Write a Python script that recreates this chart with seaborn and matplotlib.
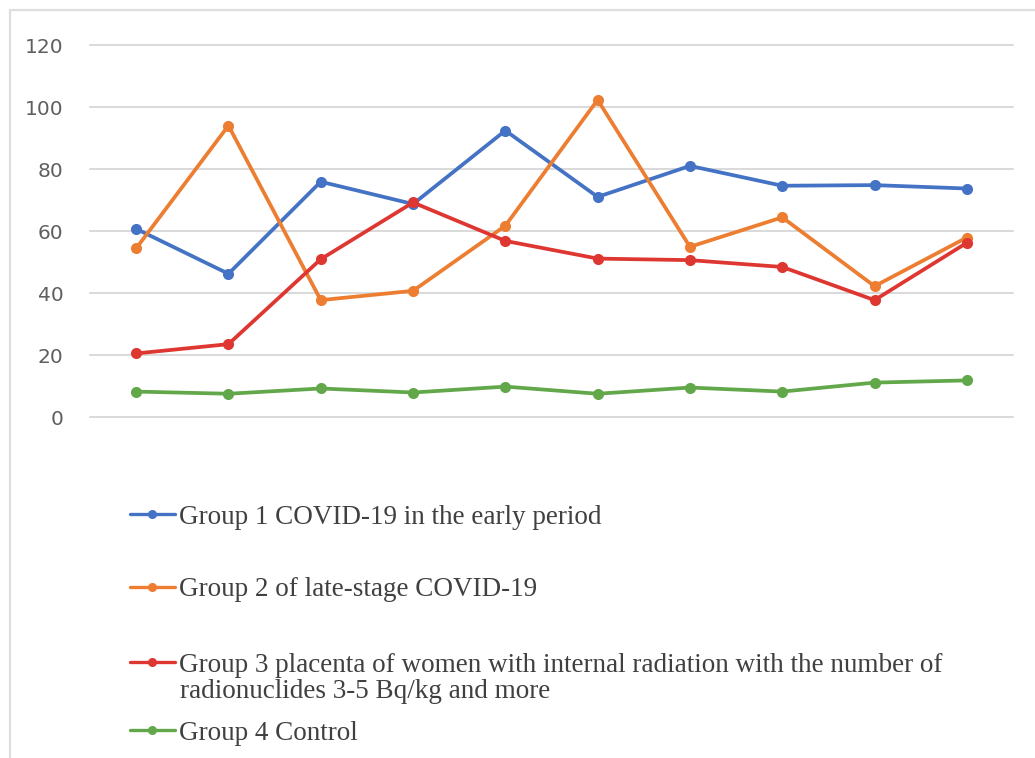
import matplotlib
matplotlib.use("Agg")
import matplotlib.pyplot as plt
from matplotlib.lines import Line2D
from matplotlib.patches import Rectangle
import pandas as pd
import seaborn as sns

# ---- data -----------------------------------------------------------------
points = list(range(10))
group1 = [60.7, 46.2, 75.9, 68.7, 92.4, 71.0, 81.0, 74.6, 74.8, 73.7]
group2 = [54.4, 94.0, 37.7, 40.7, 61.7, 102.3, 54.9, 64.4, 42.2, 57.9]
group3 = [20.5, 23.5, 50.9, 69.2, 56.8, 51.1, 50.6, 48.4, 37.7, 56.2]
group4 = [8.2, 7.5, 9.2, 7.9, 9.8, 7.5, 9.5, 8.2, 11.1, 11.8]

series_names = [
    "Group 1 COVID-19 in the early period",
    "Group 2 of late-stage COVID-19",
    "Group 3 placenta of women with internal radiation with the number of",
    "Group 4 Control",
]
group3_second_line = "radionuclides 3-5 Bq/kg and more"
y_ticks = [0, 20, 40, 60, 80, 100, 120]
colors = ["#4472C4", "#ED7D31", "#DE3732", "#62A84B"]

df = pd.concat(
    [pd.DataFrame({"point": points, "value": vals, "group": name})
     for name, vals in zip(series_names, [group1, group2, group3, group4])],
    ignore_index=True,
)

# ---- figure ---------------------------------------------------------------
sns.set_theme(style="white")
W, H = 1035, 758
fig = plt.figure(figsize=(W / 100, H / 100), dpi=100)
fig.patch.set_facecolor("white")

# light chart frame (left and top edges visible)
fig.add_artist(Rectangle((10 / W, -0.2), 1.5, 1.2 - 10 / H,
                         transform=fig.transFigure, fill=False,
                         edgecolor="#dedede", linewidth=1.6))

ax = fig.add_axes([90 / W, 1 - 417 / H, (1013 - 90) / W, (417 - 45) / H])

sns.lineplot(data=df, x="point", y="value", hue="group",
             hue_order=series_names, palette=colors, marker="o",
             markersize=8, markeredgewidth=0, linewidth=2.7,
             legend=False, sort=False, ax=ax)

ax.set_xlim(-0.5, 9.5)
ax.set_ylim(0, 120)
ax.set_yticks(y_ticks)
ax.set_xticks([])
ax.set_xlabel("")
ax.set_ylabel("")
ax.yaxis.grid(True, color="#d9d9d9", linewidth=1.4)
ax.xaxis.grid(False)
ax.set_axisbelow(True)
for s in ax.spines.values():
    s.set_visible(False)
ax.tick_params(axis="y", length=0, pad=19, labelsize=14.5, labelcolor="#5f5f5f")
for gl in ax.yaxis.get_gridlines():
    gl.set_clip_on(False)

# ---- legend (one entry per row below the plot) ----------------------------
legend_size = 19.5
legend_font = {"family": "Liberation Serif", "size": legend_size}
row_y = [517, 590, 665, 733]
for name, col, y in zip(series_names, colors, row_y):
    handle = Line2D([], [], color=col, linewidth=2.4, marker="o", markersize=5.5)
    leg = fig.legend(handles=[handle], labels=[name], loc="center left",
                     bbox_to_anchor=(130 / W, 1 - y / H), frameon=False,
                     handlelength=1.65, handletextpad=0.15, borderpad=0,
                     borderaxespad=0, prop=legend_font)
    for t in leg.get_texts():
        t.set_color("#404040")

fig.text(180 / W, 1 - 692 / H, group3_second_line, ha="left", va="center",
         color="#404040", family="Liberation Serif", size=legend_size)

fig.savefig("out.png", dpi=100, facecolor="white")
